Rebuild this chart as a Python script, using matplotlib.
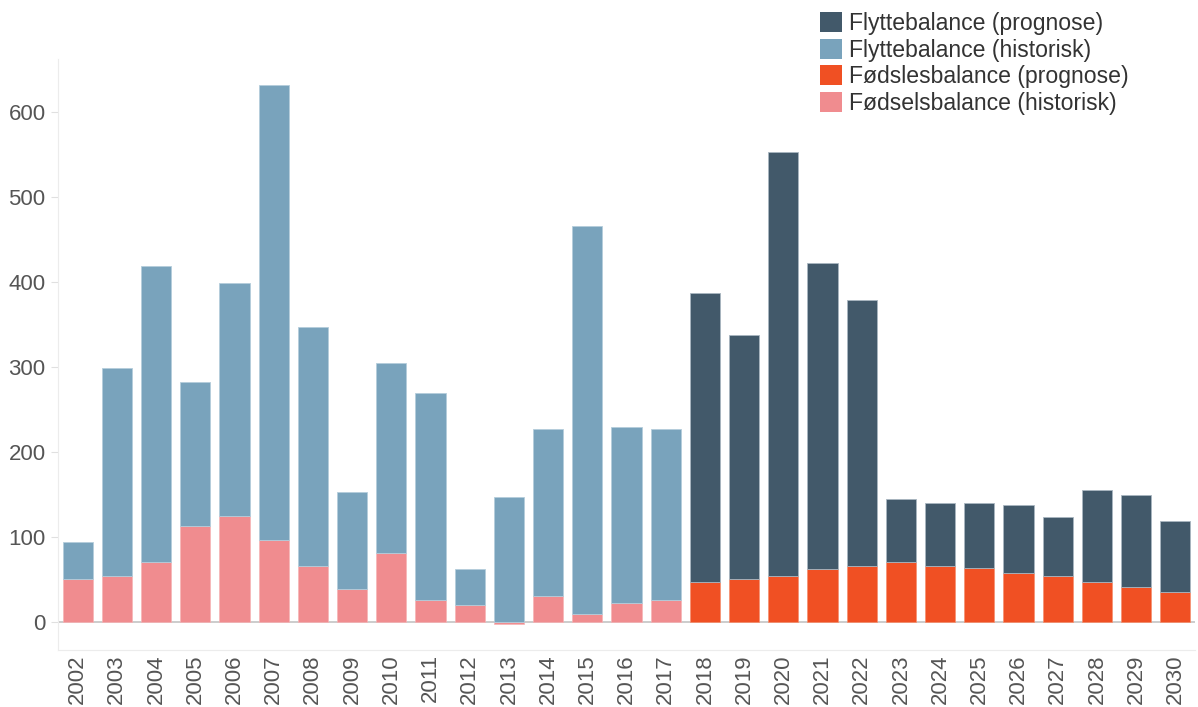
import matplotlib
matplotlib.use("Agg")
import matplotlib.pyplot as plt
from matplotlib.patches import Patch
import numpy as np

plt.rcParams['font.family'] = ['Liberation Sans', 'DejaVu Sans']

years = [str(y) for y in range(2002, 2031)]
# historic 2002-2017, forecast 2018-2030
births_hist = [50, 54, 70, 113, 125, 96, 66, 39, 81, 26, 20, -3, 30, 9, 22, 26]
migr_hist = [44, 245, 349, 169, 273, 535, 281, 114, 224, 243, 42, 147, 197, 457, 207, 201]
births_prog = [47, 50, 54, 62, 66, 71, 66, 64, 58, 54, 47, 41, 35]
migr_prog = [340, 287, 499, 360, 313, 74, 74, 76, 80, 69, 108, 108, 84]

c_migr_prog = '#42596a'
c_migr_hist = '#79a3bc'
c_birth_prog = '#f05023'
c_birth_hist = '#f08c8f'

fig = plt.figure(figsize=(11.98, 7.07), dpi=100)
ax = fig.add_axes([58/1198, 1 - 650/707, (1195-58)/1198, (650-59)/707])

n_hist = len(births_hist)
x_hist = np.arange(n_hist)
x_prog = np.arange(n_hist, n_hist + len(births_prog))
w = 0.77

bh = np.array(births_hist)
mh_bottom = np.where(bh > 0, bh, 0)
ax.bar(x_hist, bh, width=w, color=c_birth_hist, edgecolor='#f6b4b6', linewidth=0.5, zorder=2)
ax.bar(x_hist, migr_hist, bottom=mh_bottom, width=w, color=c_migr_hist, edgecolor='#b4cddb', linewidth=0.6, zorder=2)
ax.bar(x_prog, births_prog, width=w, color=c_birth_prog, edgecolor='#f5906f', linewidth=0.5, zorder=2)
ax.bar(x_prog, migr_prog, bottom=births_prog, width=w, color=c_migr_prog, edgecolor='#a9b6c0', linewidth=0.6, zorder=2)

ax.axhline(0, color='#c4c4c4', linewidth=1.2, zorder=1)

ax.set_xlim(-0.5, len(years) - 0.5)
ax.set_ylim(-33, 662)
ax.set_xticks(np.arange(len(years)))
ax.set_xticklabels(years, rotation=90, fontsize=16, color='#555555')
ax.set_yticks([0, 100, 200, 300, 400, 500, 600])
ax.set_yticklabels(['0', '100', '200', '300', '400', '500', '600'], fontsize=16, color='#555555')
ax.tick_params(axis='y', length=5, color='#e0e0e0', pad=4)
ax.tick_params(axis='x', length=0, pad=3)

for s in ['top', 'right']:
    ax.spines[s].set_visible(False)
ax.spines['left'].set_color('#ececec')
ax.spines['bottom'].set_color('#ececec')

handles = [Patch(facecolor=c_migr_prog, label='Flyttebalance (prognose)'),
           Patch(facecolor=c_migr_hist, label='Flyttebalance (historisk)'),
           Patch(facecolor=c_birth_prog, label='Fødslesbalance (prognose)'),
           Patch(facecolor=c_birth_hist, label='Fødselsbalance (historisk)')]
leg = fig.legend(handles=handles, loc='upper left', bbox_to_anchor=(804/1198, 1 + 4/707),
                 frameon=False, fontsize=16.6, handlelength=0.95, handleheight=0.95,
                 handletextpad=0.3, labelspacing=0.15, borderpad=0.2)
for t in leg.get_texts():
    t.set_color('#333333')

fig.savefig('out.png', dpi=100)
